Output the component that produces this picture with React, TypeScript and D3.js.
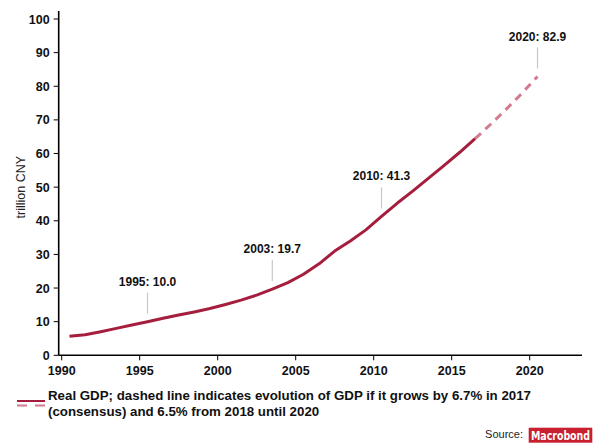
import React from "react";
import * as d3 from "d3";

// Real GDP, trillion CNY, annual values plotted at mid-year
const actualYears = [
  1990, 1991, 1992, 1993, 1994, 1995, 1996, 1997, 1998, 1999, 2000, 2001, 2002, 2003,
  2004, 2005, 2006, 2007, 2008, 2009, 2010, 2011, 2012, 2013, 2014, 2015, 2016,
];
const actualGdp = [
  5.7, 6.1, 7.0, 8.0, 9.0, 10.0, 11.0, 12.0, 12.9, 13.9, 15.1, 16.4, 17.9, 19.7,
  21.6, 24.1, 27.2, 31.0, 34.0, 37.3, 41.3, 45.2, 48.8, 52.6, 56.4, 60.3, 64.4,
];
// Path if growth is 6.7% in 2017 and 6.5% in 2018–2020
const forecastYears = [2016, 2017, 2018, 2019, 2020];
const forecastGdp = [64.4, 68.7, 73.2, 77.9, 82.9];

const highlightYears = [1995, 2003, 2010, 2020];
const highlightValues = [10.0, 19.7, 41.3, 82.9];

const xTicks = [1990, 1995, 2000, 2005, 2010, 2015, 2020];
const yTicks = [0, 10, 20, 30, 40, 50, 60, 70, 80, 90, 100];

const legendLines = [
  "Real GDP; dashed line indicates evolution of GDP if it grows by 6.7% in 2017",
  "(consensus) and 6.5% from 2018 until 2020",
];

const W = 602;
const H = 443;
const FONT = "'Liberation Sans', Arial, Helvetica, sans-serif";
const NARROW = "'Liberation Sans Narrow', 'DejaVu Sans Condensed', 'Liberation Sans', sans-serif";
const SOLID = "#a61e3e";
const DASHED = "#d27b8f";

export default function App() {
  const x = d3.scaleLinear().domain([1990, 2020]).range([61.7, 529.7]);
  const y = d3.scaleLinear().domain([0, 100]).range([355.3, 19]);
  const xAxisEnd = x(2023.35);
  const yAxisTop = y(102.4);

  const line = d3
    .line<[number, number]>()
    .x((d) => x(d[0] + 0.5))
    .y((d) => y(d[1]))
    .curve(d3.curveLinear);

  const actual = actualYears.map((yr, i) => [yr, actualGdp[i]] as [number, number]);
  const forecast = forecastYears.map((yr, i) => [yr, forecastGdp[i]] as [number, number]);

  const x0 = x(1990) - 3;
  const y0 = y(0);

  return (
    <div style={{ position: "fixed", left: 0, top: 0, width: W, height: H, background: "#fff" }}>
      <svg width={W} height={H} style={{ display: "block" }} fontFamily={FONT}>
        {/* lines */}
        <path d={line(forecast) || ""} fill="none" stroke={DASHED} strokeWidth={3} strokeDasharray="8 6" />
        <path d={line(actual) || ""} fill="none" stroke={SOLID} strokeWidth={3} strokeLinejoin="round" />

        {/* axes */}
        <line x1={x0} x2={x0} y1={yAxisTop} y2={y0} stroke="#000" strokeWidth={1.6} />
        <line x1={x0} x2={xAxisEnd} y1={y0} y2={y0} stroke="#000" strokeWidth={1.6} />
        {yTicks.map((t) => (
          <g key={`y${t}`}>
            <line x1={x0 - 5} x2={x0} y1={y(t)} y2={y(t)} stroke="#000" strokeWidth={1} />
            <text x={x0 - 9} y={y(t)} dy="0.36em" textAnchor="end" fontSize={12.5} fontWeight="bold" fill="#111">
              {t}
            </text>
          </g>
        ))}
        {xTicks.map((t) => (
          <g key={`x${t}`}>
            <line x1={x(t)} x2={x(t)} y1={y0} y2={y0 + 5} stroke="#000" strokeWidth={1} />
            <text x={x(t)} y={y0 + 20} textAnchor="middle" fontSize={12.5} fontWeight="bold" fill="#111">
              {t}
            </text>
          </g>
        ))}
        <text
          transform={`translate(21,${y(50)}) rotate(-90)`}
          dy="0.35em"
          textAnchor="middle"
          fontSize={12.5}
          fill="#222"
        >
          trillion CNY
        </text>

        {/* value call-outs */}
        {highlightYears.map((yr, i) => {
          const v = highlightValues[i];
          const px = x(yr + 0.5);
          const py = y(v);
          return (
            <g key={`a${yr}`}>
              <line x1={px} x2={px} y1={py - 8} y2={py - 29} stroke="#c8c8c8" strokeWidth={1.2} />
              <text x={px} y={py - 36} textAnchor="middle" fontSize={12} fontWeight="bold" fill="#111">
                {`${yr}: ${v.toFixed(1)}`}
              </text>
            </g>
          );
        })}

        {/* legend */}
        <line x1={17} x2={45} y1={401} y2={401} stroke={SOLID} strokeWidth={2} />
        <line x1={17} x2={45} y1={405.5} y2={405.5} stroke={DASHED} strokeWidth={2} strokeDasharray="10 8" />
        {legendLines.map((l, i) => (
          <text key={l} x={48} y={400 + i * 16} fontSize={13.3} fontWeight="bold" fill="#111">
            {l}
          </text>
        ))}

        {/* source */}
        <text x={523} y={438} textAnchor="end" fontSize={11} fill="#222">
          Source:
        </text>
        <rect x={528.7} y={427.7} width={63.6} height={15} fill="#c8202f" />
        <text
          x={531}
          y={439.6}
          fontFamily={NARROW}
          fontSize={12.5}
          fontWeight="bold"
          fill="#fff"
          textLength={59}
          lengthAdjust="spacingAndGlyphs"
        >
          Macrobond
        </text>
      </svg>
    </div>
  );
}
